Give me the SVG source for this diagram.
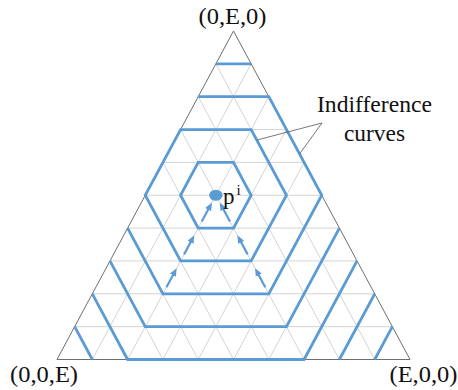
<svg xmlns="http://www.w3.org/2000/svg" width="458" height="390" viewBox="0 0 458 390">
  <style>
    .grid { stroke: #cfcfcf; stroke-width: 0.9; fill: none; }
    .tri { stroke: #6e6e6e; stroke-width: 1; fill: none; }
    .curve { stroke: #5b9bd5; stroke-width: 2.8; fill: none; stroke-linejoin: miter; }
    .arrow { stroke: #5b9bd5; stroke-width: 2.2; fill: none; marker-end: url(#ah); }
    .ptr { stroke: #555; stroke-width: 0.8; fill: none; }
  </style>
  <defs>
    <marker id="ah" viewBox="0 0 10 10" refX="5" refY="5" markerWidth="8" markerHeight="8" markerUnits="userSpaceOnUse" orient="auto">
      <path d="M0,0.8 L10,5 L0,9.2 z" fill="#5b9bd5"/>
    </marker>
  </defs>
  <rect width="458" height="390" fill="#ffffff"/>

  <g id="grid">
    <path class="grid" d="M74.65,326.65H392.35 M92.3,293.8H374.7 M109.95,260.95H357.05 M127.6,228.1H339.4 M145.25,195.25H321.75 M162.9,162.4H304.1 M180.55,129.55H286.45 M198.2,96.7H268.8 M215.85,63.85H251.15"/>
    <path class="grid" d="M92.3,359.5L251.15,63.85 M127.6,359.5L268.8,96.7 M162.9,359.5L286.45,129.55 M198.2,359.5L304.1,162.4 M233.5,359.5L321.75,195.25 M268.8,359.5L339.4,228.1 M304.1,359.5L357.05,260.95 M339.4,359.5L374.7,293.8 M374.7,359.5L392.35,326.65"/>
    <path class="grid" d="M92.3,359.5L74.65,326.65 M127.6,359.5L92.3,293.8 M162.9,359.5L109.95,260.95 M198.2,359.5L127.6,228.1 M233.5,359.5L145.25,195.25 M268.8,359.5L162.9,162.4 M304.1,359.5L180.55,129.55 M339.4,359.5L198.2,96.7 M374.7,359.5L215.85,63.85"/>
  </g>
  <g id="triangle">
    <polygon class="tri" points="57,359.5 410,359.5 233.5,31"/>
  </g>

  <g id="curves">
    <polygon id="curve1" class="curve" points="198.2,162.4 233.5,162.4 251.15,195.25 233.5,228.1 198.2,228.1 180.55,195.25"/>
    <polygon id="curve2" class="curve" points="180.55,129.55 251.15,129.55 286.45,195.25 251.15,260.95 180.55,260.95 145.25,195.25"/>
    <polyline id="curve3" class="curve" points="198.2,96.7 268.8,96.7 321.75,195.25 268.8,293.8 162.9,293.8 127.6,228.1"/>
    <g id="curve4">
      <polyline class="curve" points="215.85,63.85 251.15,63.85"/>
      <polyline class="curve" points="109.95,260.95 145.25,326.65 286.45,326.65 339.4,228.1"/>
    </g>
    <polyline id="curve5" class="curve" points="92.3,293.8 127.6,359.5 304.1,359.5 357.05,260.95"/>
    <g id="curve6">
      <polyline class="curve" points="74.65,326.65 92.3,359.5"/>
      <polyline class="curve" points="339.4,359.5 374.7,293.8"/>
    </g>
    <polyline id="curve7" class="curve" points="374.7,359.5 392.35,326.65"/>
  </g>

  <g id="connectors">
    <line class="arrow" x1="201.73" y1="221.53" x2="210.08" y2="205.99"/>
    <line class="arrow" x1="184.08" y1="254.38" x2="192.43" y2="238.84"/>
    <line class="arrow" x1="166.43" y1="287.23" x2="174.78" y2="271.69"/>
    <line class="arrow" x1="229.97" y1="221.53" x2="221.62" y2="205.99"/>
    <line class="arrow" x1="247.62" y1="254.38" x2="239.27" y2="238.84"/>
    <line class="arrow" x1="265.27" y1="287.23" x2="256.92" y2="271.69"/>
    <line class="ptr" x1="322" y1="123" x2="257" y2="140"/>
    <line class="ptr" x1="322" y1="123" x2="299.5" y2="154"/>
  </g>

  <g id="ideal-point">
    <ellipse cx="215.85" cy="195.25" rx="6.7" ry="5.5" fill="#5b9bd5"/>
    <text x="223" y="204" font-family="Liberation Serif" font-size="23" fill="#111">p</text>
    <text x="236.5" y="195" font-family="Liberation Serif" font-size="15" fill="#111">i</text>
  </g>

  <g id="labels" fill="#111">
    <text x="198.5" y="24" font-family="Liberation Serif" font-size="23" textLength="68" lengthAdjust="spacingAndGlyphs">(0,E,0)</text>
    <text x="10" y="382" font-family="Liberation Serif" font-size="23" textLength="68" lengthAdjust="spacingAndGlyphs">(0,0,E)</text>
    <text x="389.5" y="382" font-family="Liberation Serif" font-size="23" textLength="68" lengthAdjust="spacingAndGlyphs">(E,0,0)</text>
    <text x="317" y="112" font-family="Liberation Serif" font-size="23" textLength="115" lengthAdjust="spacingAndGlyphs">Indifference</text>
    <text x="344" y="141" font-family="Liberation Serif" font-size="23" textLength="61" lengthAdjust="spacingAndGlyphs">curves</text>
  </g>
</svg>
